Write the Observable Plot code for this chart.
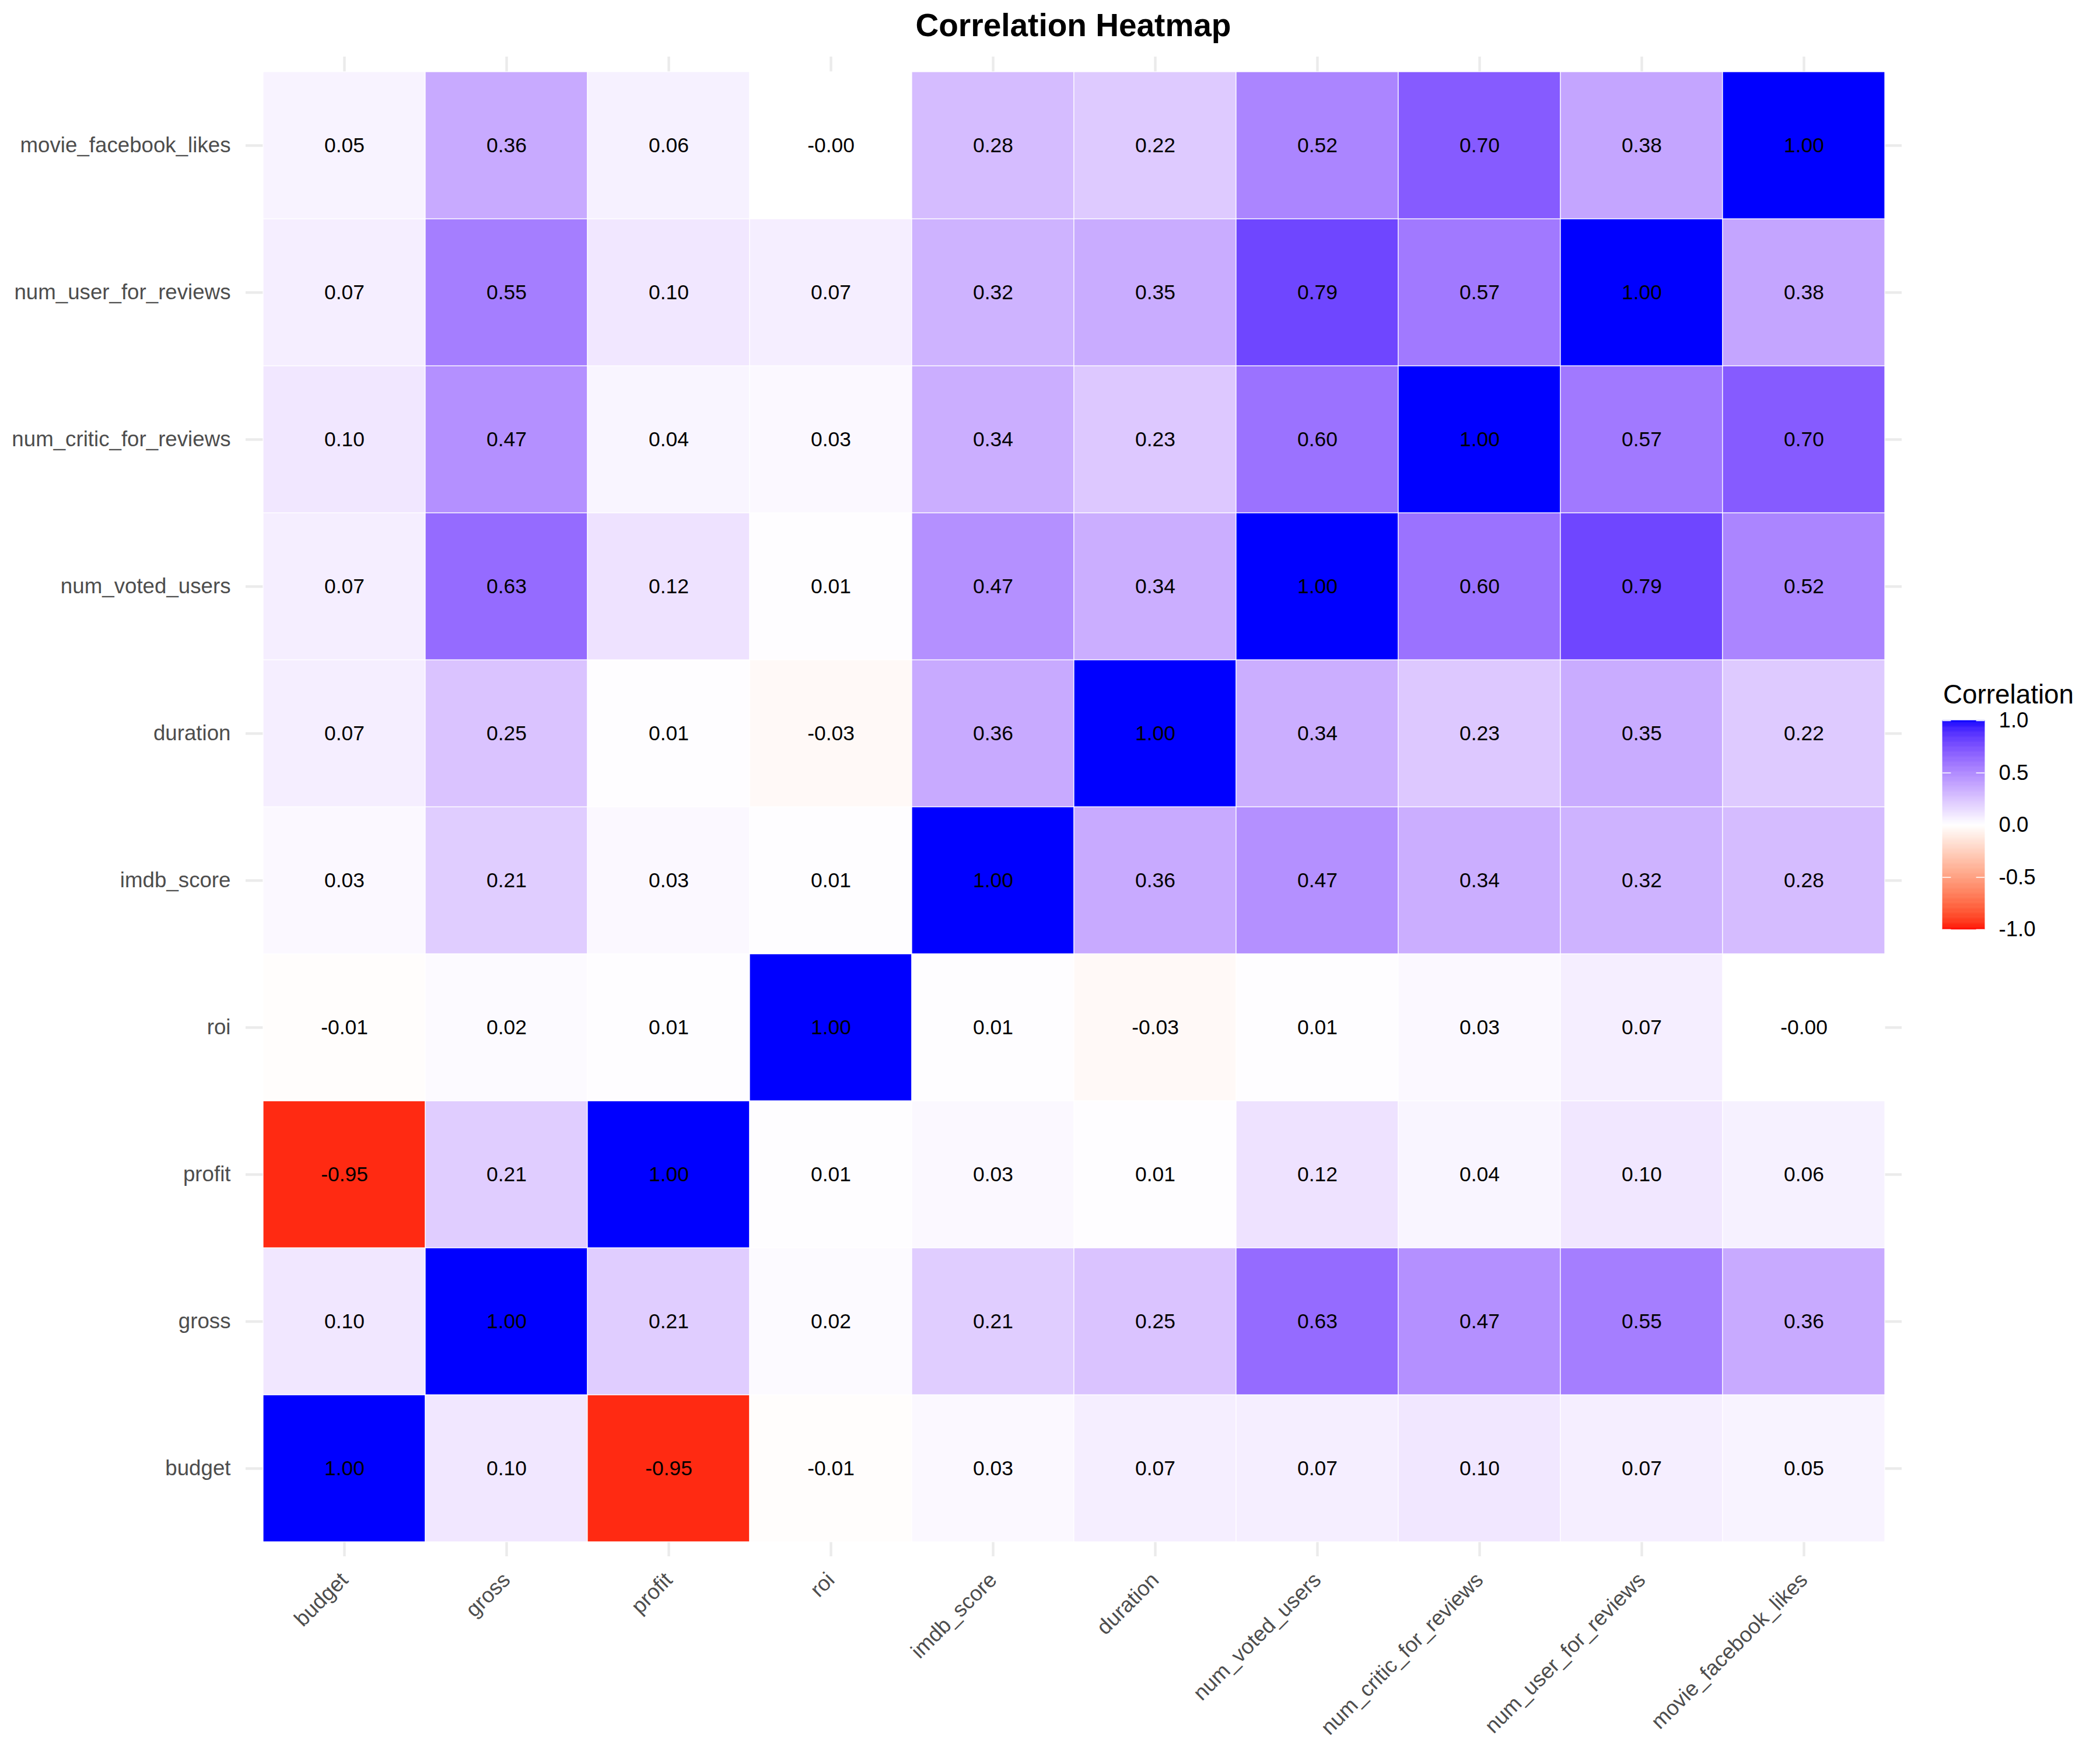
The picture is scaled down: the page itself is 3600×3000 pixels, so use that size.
<!DOCTYPE html>
<html>
<head>
<meta charset="utf-8">
<script src="https://cdn.jsdelivr.net/npm/d3@7"></script>
<script src="https://cdn.jsdelivr.net/npm/@observablehq/plot@0.6"></script>
<style>
  html, body { margin: 0; padding: 0; background: #ffffff; }
  #wrap { position: relative; width: 3600px; height: 3000px; background: #ffffff;
          font-family: "Liberation Sans", Arial, Helvetica, sans-serif; }
  #title { position: absolute; left: 1340px; width: 1000px; top: 16px; text-align: center;
           font-size: 55px; line-height: 55px; font-weight: bold; color: #000; }
  #main { position: absolute; left: 0; top: 97px; }
  #legtitle { position: absolute; left: 3331px; top: 1168px; font-size: 45.8px; line-height: 45.8px; color: #000; }
  #legend { position: absolute; left: 3300px; top: 1150px; }
</style>
</head>
<body>
<div id="wrap">
  <div id="title">Correlation Heatmap</div>
  <div id="main"></div>
  <div id="legtitle">Correlation</div>
  <div id="legend"></div>
</div>
<script>
// Variables (x order left→right; y order bottom→top)
const vars = ["budget","gross","profit","roi","imdb_score","duration","num_voted_users","num_critic_for_reviews","num_user_for_reviews","movie_facebook_likes"];

// Correlation rows (values along the x order above)
const budget                 = [ 1.00, 0.10, -0.95, -0.01, 0.03,  0.07, 0.07, 0.10, 0.07,  0.05];
const gross                  = [ 0.10, 1.00,  0.21,  0.02, 0.21,  0.25, 0.63, 0.47, 0.55,  0.36];
const profit                 = [-0.95, 0.21,  1.00,  0.01, 0.03,  0.01, 0.12, 0.04, 0.10,  0.06];
const roi                    = [-0.01, 0.02,  0.01,  1.00, 0.01, -0.03, 0.01, 0.03, 0.07, -0.001];
const imdb_score             = [ 0.03, 0.21,  0.03,  0.01, 1.00,  0.36, 0.47, 0.34, 0.32,  0.28];
const duration               = [ 0.07, 0.25,  0.01, -0.03, 0.36,  1.00, 0.34, 0.23, 0.35,  0.22];
const num_voted_users        = [ 0.07, 0.63,  0.12,  0.01, 0.47,  0.34, 1.00, 0.60, 0.79,  0.52];
const num_critic_for_reviews = [ 0.10, 0.47,  0.04,  0.03, 0.34,  0.23, 0.60, 1.00, 0.57,  0.70];
const num_user_for_reviews   = [ 0.07, 0.55,  0.10,  0.07, 0.32,  0.35, 0.79, 0.57, 1.00,  0.38];
const movie_facebook_likes   = [ 0.05, 0.36,  0.06, -0.001, 0.28, 0.22, 0.52, 0.70, 0.38,  1.00];

// Legend breaks
const legendBreaks = [-1, -0.5, 0, 0.5, 1];

const rowTable = {budget, gross, profit, roi, imdb_score, duration, num_voted_users,
                  num_critic_for_reviews, num_user_for_reviews, movie_facebook_likes};
const cells = vars.flatMap(r => vars.map((c, i) => ({x: c, y: r, v: rowTable[r][i]})));

const FONT = '"Liberation Sans", Arial, Helvetica, sans-serif';
const colorScale = {type: "linear", domain: [-1, 0, 1], range: ["red", "white", "blue"], interpolate: "lab"};

const main = Plot.plot({
  width: 3600,
  height: 2900,
  marginLeft: 421,
  marginRight: 340,
  marginTop: 0,
  marginBottom: 329,
  style: {fontFamily: FONT, background: "white", color: "#4d4d4d"},
  x: {type: "band", domain: vars, padding: 0, inset: 25, label: null},
  y: {type: "band", domain: vars.slice().reverse(), padding: 0, inset: 25, label: null},
  color: colorScale,
  marks: [
    Plot.ruleX(vars, {x: d => d, stroke: "#ebebeb", strokeWidth: 4.4}),
    Plot.ruleY(vars, {y: d => d, stroke: "#ebebeb", strokeWidth: 4.4}),
    Plot.cell(cells, {x: "x", y: "y", fill: "v", stroke: "white", strokeWidth: 1.2, inset: 0}),
    Plot.text(cells, {x: "x", y: "y", text: d => d.v.toFixed(2), fontSize: 35.4, fill: "black"}),
    Plot.axisX({tickSize: 0, tickPadding: 34, tickRotate: -45, fontSize: 36.7, label: null}),
    Plot.axisY({tickSize: 0, tickPadding: 26, fontSize: 36.7, label: null})
  ]
});
document.getElementById("main").appendChild(main);

const stops = d3.range(-1, 1, 0.005);
const legend = Plot.plot({
  width: 300,
  height: 480,
  margin: 0,
  style: {fontFamily: FONT, background: "transparent", color: "black"},
  x: {domain: [0, 1], range: [30, 102], axis: null},
  y: {domain: [-1, 1], range: [443, 85], axis: null},
  color: colorScale,
  marks: [
    Plot.rect(stops, {x1: 0, x2: 1, y1: d => d, y2: d => d + 0.005, fill: d => d + 0.0025, stroke: d => d + 0.0025, strokeWidth: 0.6}),
    Plot.ruleY(legendBreaks, {y: d => d, x1: 0, x2: 0.2, stroke: "white", strokeWidth: 1.5}),
    Plot.ruleY(legendBreaks, {y: d => d, x1: 0.8, x2: 1, stroke: "white", strokeWidth: 1.5}),
    Plot.text(legendBreaks, {x: 1, y: d => d, text: d => d.toFixed(1), dx: 24, textAnchor: "start", fontSize: 36.7, fill: "black"})
  ]
});
document.getElementById("legend").appendChild(legend);
</script>
</body>
</html>
